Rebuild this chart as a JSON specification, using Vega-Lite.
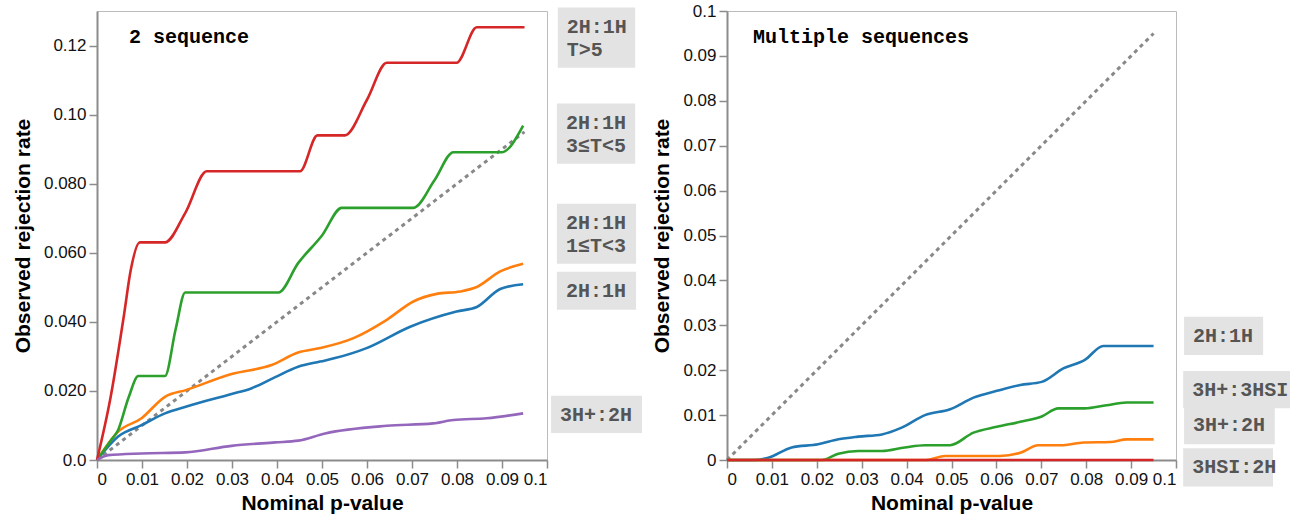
{
  "$schema": "https://vega.github.io/schema/vega-lite/v6.json",
  "padding": {"left": 11, "top": 1, "right": 0, "bottom": 0},
  "bounds": "flush",
  "spacing": 180,
  "resolve": {"scale": {"x": "independent", "y": "independent", "color": "independent"}},
  "config": {
    "view": {"stroke": "#bbbbbb", "strokeWidth": 1},
    "font": "Liberation Sans",
    "axis": {
      "grid": false,
      "domainColor": "#8c8c8c",
      "domainWidth": 2,
      "tickColor": "#8c8c8c",
      "tickWidth": 1.5,
      "tickSize": 8,
      "labelFont": "Liberation Sans",
      "labelFontSize": 17,
      "labelColor": "#111111",
      "labelPadding": 3,
      "titleFont": "Liberation Sans",
      "titleFontSize": 21,
      "titleFontWeight": "bold",
      "titleColor": "#000000"
    }
  },
  "hconcat": [
    {
      "width": 450,
      "height": 449,
      "encoding": {
        "x": {"field": "x", "type": "quantitative",
          "scale": {"domain": [0, 0.1], "nice": false, "zero": false},
          "axis": {"values": [0, 0.01, 0.02, 0.03, 0.04, 0.05, 0.06, 0.07, 0.08, 0.09, 0.1], "format": ".2~f", "labelOverlap": false, "title": "Nominal p-value", "titlePadding": 5}},
        "y": {"field": "y", "type": "quantitative",
          "scale": {"domain": [0, 0.13], "nice": false, "zero": false},
          "axis": {"values": [0, 0.02, 0.04, 0.06, 0.08, 0.1, 0.12], "labelExpr": "datum.value == 0 ? '0.0' : datum.value >= 0.095 ? format(datum.value, '.2f') : format(datum.value, '.3f')", "labelOverlap": false, "title": "Observed rejection rate", "titlePadding": 10}}
      },
      "layer": [
        {
          "data": {"values": [{"x": 0, "y": 0}, {"x": 0.095, "y": 0.095}]},
          "mark": {"type": "line", "color": "#888888", "strokeWidth": 3, "strokeDash": [4, 4], "strokeCap": "butt"}
        },
        {
          "data": {"values": [
            {"s": "2H:1H", "x": 0, "y": 0},
            {"s": "2H:1H", "x": 0.0047, "y": 0.0068},
            {"s": "2H:1H", "x": 0.0099, "y": 0.0101},
            {"s": "2H:1H", "x": 0.0151, "y": 0.0135},
            {"s": "2H:1H", "x": 0.0199, "y": 0.0155},
            {"s": "2H:1H", "x": 0.0299, "y": 0.0191},
            {"s": "2H:1H", "x": 0.0344, "y": 0.0208},
            {"s": "2H:1H", "x": 0.0396, "y": 0.024},
            {"s": "2H:1H", "x": 0.0447, "y": 0.027},
            {"s": "2H:1H", "x": 0.0496, "y": 0.0285},
            {"s": "2H:1H", "x": 0.0529, "y": 0.0295},
            {"s": "2H:1H", "x": 0.0599, "y": 0.0324},
            {"s": "2H:1H", "x": 0.0696, "y": 0.0386},
            {"s": "2H:1H", "x": 0.0799, "y": 0.043},
            {"s": "2H:1H", "x": 0.0844, "y": 0.0443},
            {"s": "2H:1H", "x": 0.0896, "y": 0.0495},
            {"s": "2H:1H", "x": 0.0947, "y": 0.0509},
            {"s": "1≤T<3", "x": 0, "y": 0},
            {"s": "1≤T<3", "x": 0.0047, "y": 0.0082},
            {"s": "1≤T<3", "x": 0.0099, "y": 0.0121},
            {"s": "1≤T<3", "x": 0.0151, "y": 0.0183},
            {"s": "1≤T<3", "x": 0.0199, "y": 0.0203},
            {"s": "1≤T<3", "x": 0.0299, "y": 0.0249},
            {"s": "1≤T<3", "x": 0.0388, "y": 0.0275},
            {"s": "1≤T<3", "x": 0.0447, "y": 0.0311},
            {"s": "1≤T<3", "x": 0.0496, "y": 0.0324},
            {"s": "1≤T<3", "x": 0.057, "y": 0.0353},
            {"s": "1≤T<3", "x": 0.0644, "y": 0.0406},
            {"s": "1≤T<3", "x": 0.0703, "y": 0.0459},
            {"s": "1≤T<3", "x": 0.0755, "y": 0.0481},
            {"s": "1≤T<3", "x": 0.0807, "y": 0.0488},
            {"s": "1≤T<3", "x": 0.0844, "y": 0.0501},
            {"s": "1≤T<3", "x": 0.0896, "y": 0.0546},
            {"s": "1≤T<3", "x": 0.0947, "y": 0.0568},
            {"s": "3≤T<5", "x": 0, "y": 0},
            {"s": "3≤T<5", "x": 0.003, "y": 0.0055},
            {"s": "3≤T<5", "x": 0.0047, "y": 0.0087},
            {"s": "3≤T<5", "x": 0.007, "y": 0.018},
            {"s": "3≤T<5", "x": 0.0092, "y": 0.0243},
            {"s": "3≤T<5", "x": 0.0151, "y": 0.0243},
            {"s": "3≤T<5", "x": 0.0175, "y": 0.038},
            {"s": "3≤T<5", "x": 0.0196, "y": 0.0485},
            {"s": "3≤T<5", "x": 0.0403, "y": 0.0485},
            {"s": "3≤T<5", "x": 0.0447, "y": 0.057},
            {"s": "3≤T<5", "x": 0.05, "y": 0.065},
            {"s": "3≤T<5", "x": 0.0544, "y": 0.073},
            {"s": "3≤T<5", "x": 0.0703, "y": 0.073},
            {"s": "3≤T<5", "x": 0.075, "y": 0.081},
            {"s": "3≤T<5", "x": 0.0792, "y": 0.0891},
            {"s": "3≤T<5", "x": 0.0899, "y": 0.0891},
            {"s": "3≤T<5", "x": 0.0947, "y": 0.0968},
            {"s": "T>5", "x": 0, "y": 0},
            {"s": "T>5", "x": 0.003, "y": 0.018},
            {"s": "T>5", "x": 0.006, "y": 0.042},
            {"s": "T>5", "x": 0.0075, "y": 0.055},
            {"s": "T>5", "x": 0.0095, "y": 0.063},
            {"s": "T>5", "x": 0.0151, "y": 0.063},
            {"s": "T>5", "x": 0.0196, "y": 0.0715},
            {"s": "T>5", "x": 0.0244, "y": 0.0836},
            {"s": "T>5", "x": 0.0451, "y": 0.0836},
            {"s": "T>5", "x": 0.049, "y": 0.094},
            {"s": "T>5", "x": 0.0551, "y": 0.094},
            {"s": "T>5", "x": 0.06, "y": 0.1043},
            {"s": "T>5", "x": 0.0644, "y": 0.115},
            {"s": "T>5", "x": 0.0799, "y": 0.115},
            {"s": "T>5", "x": 0.0844, "y": 0.1253},
            {"s": "T>5", "x": 0.095, "y": 0.1253},
            {"s": "3H+:2H", "x": 0, "y": 0},
            {"s": "3H+:2H", "x": 0.0025, "y": 0.0014},
            {"s": "3H+:2H", "x": 0.0099, "y": 0.0019},
            {"s": "3H+:2H", "x": 0.0196, "y": 0.0022},
            {"s": "3H+:2H", "x": 0.0299, "y": 0.0041},
            {"s": "3H+:2H", "x": 0.0396, "y": 0.0051},
            {"s": "3H+:2H", "x": 0.0447, "y": 0.0056},
            {"s": "3H+:2H", "x": 0.0507, "y": 0.0077},
            {"s": "3H+:2H", "x": 0.0644, "y": 0.0099},
            {"s": "3H+:2H", "x": 0.0747, "y": 0.0106},
            {"s": "3H+:2H", "x": 0.0792, "y": 0.0116},
            {"s": "3H+:2H", "x": 0.0866, "y": 0.0121},
            {"s": "3H+:2H", "x": 0.0947, "y": 0.0135}
          ]},
          "mark": {"type": "line", "strokeWidth": 2.6, "interpolate": "monotone"},
          "encoding": {
            "color": {"field": "s", "type": "nominal", "legend": null,
              "scale": {"domain": ["2H:1H", "1≤T<3", "3≤T<5", "T>5", "3H+:2H"], "range": ["#1f77b4", "#ff7f0e", "#2ca02c", "#d62728", "#9467bd"]}}
          }
        },
        {
          "data": {"values": [
            {"label": "2H:1H\nT>5", "x": 0.1024, "x2": 0.1196, "y": 0.131, "y2": 0.1136},
            {"label": "2H:1H\n3≤T<5", "x": 0.1022, "x2": 0.1196, "y": 0.1032, "y2": 0.0858},
            {"label": "2H:1H\n1≤T<3", "x": 0.1022, "x2": 0.1198, "y": 0.0742, "y2": 0.0568},
            {"label": "2H:1H", "x": 0.1022, "x2": 0.1198, "y": 0.0545, "y2": 0.0435},
            {"label": "3H+:2H", "x": 0.1009, "x2": 0.1211, "y": 0.0186, "y2": 0.0078}
          ]},
          "layer": [
            {"mark": {"type": "rect", "color": "#e3e3e3", "clip": false},
             "encoding": {"x2": {"field": "x2"}, "y2": {"field": "y2"}}},
            {"mark": {"type": "text", "font": "Liberation Mono", "fontWeight": "bold", "fontSize": 20, "color": "#555555", "align": "left", "baseline": "alphabetic", "dx": 9, "dy": 25, "lineHeight": 23, "lineBreak": "\n", "clip": false},
             "encoding": {"text": {"field": "label"}}}
          ]
        },
        {
          "data": {"values": [{"t": "2 sequence", "x": 0.0071, "y": 0.1226}]},
          "mark": {"type": "text", "font": "Liberation Mono", "fontWeight": "bold", "fontSize": 20, "color": "#000000", "align": "left", "baseline": "middle"},
          "encoding": {"text": {"field": "t"}}
        }
      ]
    },
    {
      "width": 449,
      "height": 449,
      "encoding": {
        "x": {"field": "x", "type": "quantitative",
          "scale": {"domain": [0, 0.1], "nice": false, "zero": false},
          "axis": {"values": [0, 0.01, 0.02, 0.03, 0.04, 0.05, 0.06, 0.07, 0.08, 0.09, 0.1], "format": ".2~f", "labelOverlap": false, "title": "Nominal p-value", "titlePadding": 5}},
        "y": {"field": "y", "type": "quantitative",
          "scale": {"domain": [0, 0.1], "nice": false, "zero": false},
          "axis": {"values": [0, 0.01, 0.02, 0.03, 0.04, 0.05, 0.06, 0.07, 0.08, 0.09, 0.1], "format": ".2~f", "labelOverlap": false, "title": "Observed rejection rate", "titlePadding": 10}}
      },
      "layer": [
        {
          "data": {"values": [{"x": 0, "y": 0}, {"x": 0.095, "y": 0.095}]},
          "mark": {"type": "line", "color": "#888888", "strokeWidth": 3, "strokeDash": [4, 4], "strokeCap": "butt"}
        },
        {
          "data": {"values": [
            {"s": "2H:1H", "x": 0, "y": 0},
            {"s": "2H:1H", "x": 0.006, "y": 0},
            {"s": "2H:1H", "x": 0.0092, "y": 0.0005},
            {"s": "2H:1H", "x": 0.0144, "y": 0.0028},
            {"s": "2H:1H", "x": 0.0203, "y": 0.0035},
            {"s": "2H:1H", "x": 0.0248, "y": 0.0046},
            {"s": "2H:1H", "x": 0.0292, "y": 0.0052},
            {"s": "2H:1H", "x": 0.0345, "y": 0.0057},
            {"s": "2H:1H", "x": 0.0389, "y": 0.0072},
            {"s": "2H:1H", "x": 0.0441, "y": 0.01},
            {"s": "2H:1H", "x": 0.0497, "y": 0.0113},
            {"s": "2H:1H", "x": 0.0549, "y": 0.0139},
            {"s": "2H:1H", "x": 0.0601, "y": 0.0154},
            {"s": "2H:1H", "x": 0.0653, "y": 0.0167},
            {"s": "2H:1H", "x": 0.0701, "y": 0.0174},
            {"s": "2H:1H", "x": 0.0749, "y": 0.0204},
            {"s": "2H:1H", "x": 0.0797, "y": 0.0223},
            {"s": "2H:1H", "x": 0.0838, "y": 0.0254},
            {"s": "2H:1H", "x": 0.095, "y": 0.0254},
            {"s": "3H+:3HSI", "x": 0, "y": 0},
            {"s": "3H+:3HSI", "x": 0.0211, "y": 0},
            {"s": "3H+:3HSI", "x": 0.0248, "y": 0.0014},
            {"s": "3H+:3HSI", "x": 0.0292, "y": 0.002},
            {"s": "3H+:3HSI", "x": 0.0345, "y": 0.002},
            {"s": "3H+:3HSI", "x": 0.0396, "y": 0.0028},
            {"s": "3H+:3HSI", "x": 0.0441, "y": 0.0033},
            {"s": "3H+:3HSI", "x": 0.0497, "y": 0.0033},
            {"s": "3H+:3HSI", "x": 0.0549, "y": 0.0061},
            {"s": "3H+:3HSI", "x": 0.0601, "y": 0.0074},
            {"s": "3H+:3HSI", "x": 0.0653, "y": 0.0085},
            {"s": "3H+:3HSI", "x": 0.0701, "y": 0.0097},
            {"s": "3H+:3HSI", "x": 0.0738, "y": 0.0115},
            {"s": "3H+:3HSI", "x": 0.0797, "y": 0.0115},
            {"s": "3H+:3HSI", "x": 0.0845, "y": 0.0122},
            {"s": "3H+:3HSI", "x": 0.089, "y": 0.0128},
            {"s": "3H+:3HSI", "x": 0.095, "y": 0.0128},
            {"s": "3H+:2H", "x": 0, "y": 0},
            {"s": "3H+:2H", "x": 0.0443, "y": 0},
            {"s": "3H+:2H", "x": 0.0486, "y": 0.0009},
            {"s": "3H+:2H", "x": 0.0608, "y": 0.0009},
            {"s": "3H+:2H", "x": 0.0653, "y": 0.0016},
            {"s": "3H+:2H", "x": 0.0693, "y": 0.0033},
            {"s": "3H+:2H", "x": 0.0749, "y": 0.0033},
            {"s": "3H+:2H", "x": 0.0794, "y": 0.0039},
            {"s": "3H+:2H", "x": 0.0854, "y": 0.004},
            {"s": "3H+:2H", "x": 0.089, "y": 0.0046},
            {"s": "3H+:2H", "x": 0.095, "y": 0.0046},
            {"s": "3HSI:2H", "x": 0, "y": 0},
            {"s": "3HSI:2H", "x": 0.095, "y": 0}
          ]},
          "mark": {"type": "line", "strokeWidth": 2.6, "interpolate": "monotone"},
          "encoding": {
            "color": {"field": "s", "type": "nominal", "legend": null,
              "scale": {"domain": ["2H:1H", "3H+:2H", "3H+:3HSI", "3HSI:2H"], "range": ["#1f77b4", "#ff7f0e", "#2ca02c", "#d62728"]}}
          }
        },
        {
          "data": {"values": [
            {"label": "2H:1H", "x": 0.1018, "x2": 0.1194, "y": 0.0319, "y2": 0.0234},
            {"label": "3H+:3HSI", "x": 0.1016, "x2": 0.1254, "y": 0.0198, "y2": 0.0115},
            {"label": "3H+:2H", "x": 0.1018, "x2": 0.122, "y": 0.012, "y2": 0.0035},
            {"label": "3HSI:2H", "x": 0.1016, "x2": 0.1216, "y": 0.0026, "y2": -0.0059}
          ]},
          "layer": [
            {"mark": {"type": "rect", "color": "#e3e3e3", "clip": false},
             "encoding": {"x2": {"field": "x2"}, "y2": {"field": "y2"}}},
            {"mark": {"type": "text", "font": "Liberation Mono", "fontWeight": "bold", "fontSize": 20, "color": "#555555", "align": "left", "baseline": "alphabetic", "dx": 9, "dy": 25, "lineHeight": 23, "lineBreak": "\n", "clip": false},
             "encoding": {"text": {"field": "label"}}}
          ]
        },
        {
          "data": {"values": [{"t": "Multiple sequences", "x": 0.0058, "y": 0.0943}]},
          "mark": {"type": "text", "font": "Liberation Mono", "fontWeight": "bold", "fontSize": 20, "color": "#000000", "align": "left", "baseline": "middle"},
          "encoding": {"text": {"field": "t"}}
        }
      ]
    }
  ]
}
